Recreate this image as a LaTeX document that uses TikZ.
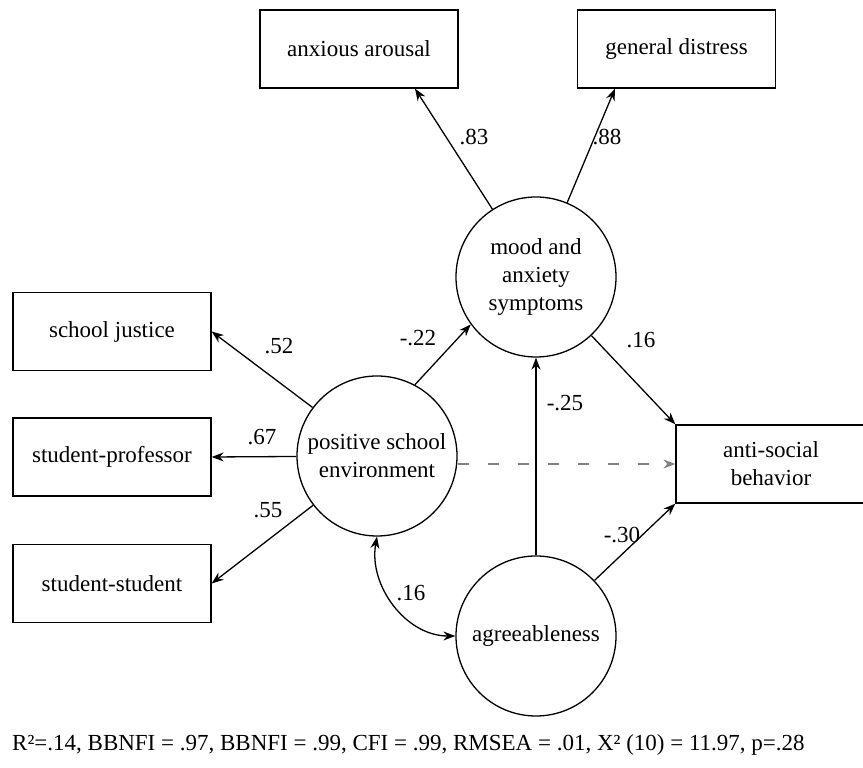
\documentclass[tikz,border=0pt]{standalone}
\usepackage{fontspec}
\setmainfont{Liberation Serif}
\usetikzlibrary{arrows.meta}

\tikzset{
  >={Stealth[length=12pt,width=9pt]},
  obs/.style={draw, line width=1.3pt, minimum width=198pt, minimum height=78pt, inner sep=0pt, align=center},
  lat/.style={draw, circle, line width=1.3pt, minimum size=160pt, inner sep=0pt, align=center},
  path/.style={line width=1.3pt, ->},
  coef/.style={inner sep=0pt}
}

\begin{document}
\begin{tikzpicture}[x=1pt, y=1pt, font=\fontsize{23}{28}\selectfont]
  \clip (0,0) rectangle (863,768);
  \begin{scope}
    % observed variables
    \node[obs] (arousal) at (359,719) {anxious arousal};
    \node[obs] (distress) at (676.5,719) {general distress};
    \node[obs] (justice) at (112,436.5) {school justice};
    \node[obs] (professor) at (112,311) {student-professor};
    \node[obs] (student) at (112,184.5) {student-student};
    \node[obs, minimum width=190pt] (antisocial) at (771,304) {anti-social\\behavior};

    % latent variables
    \node[lat] (mood) at (536,491) {mood and\\anxiety\\symptoms};
    \node[lat] (school) at (377,312) {positive school\\environment};
    \node[lat] (agree) at (536,132) {agreeableness};

    \draw[path] (mood) -- ([xshift=56pt]arousal.south);
    \draw[path] (mood) -- ([xshift=-61.5pt]distress.south);
    \draw[path] (school) -- (justice.east);
    \draw[path] (school) -- (professor.east);
    \draw[path] (school) -- (student.east);
    \draw[path] (school.62) -- (mood.216);
    \draw[path] (mood) -- (antisocial.north west);
    \draw[path] (agree) -- (mood);
    \draw[path] (agree) -- (antisocial.south west);
    \draw[path, gray, dash pattern=on 11pt off 19pt] (antisocial.west -| school.east) -- (antisocial.west);
    \draw[line width=1.3pt, <->] (school.south) to[out=-100, in=180] (agree.west);

    % coefficients
    \node[coef] (l83) at (474,631) {.83};
    \node[coef] (l88) at (607,631) {.88};
    \node[coef] (l52) at (279,422) {.52};
    \node[coef] (l67) at (262,331) {.67};
    \node[coef] (l55) at (268,258) {.55};
    \node[coef] (l22) at (418,430) {-.22};
    \node[coef] (l16a) at (641,428) {.16};
    \node[coef] (l25) at (565,365) {-.25};
    \node[coef] (l30) at (622,233) {-.30};
    \node[coef] (l16b) at (411,175) {.16};

    \node[anchor=west, inner sep=0pt] (fit) at (12,23) {R²=.14, BBNFI = .97, BBNFI = .99, CFI = .99, RMSEA = .01, X² (10) = 11.97, p=.28};
  \end{scope}
\end{tikzpicture}
\end{document}
